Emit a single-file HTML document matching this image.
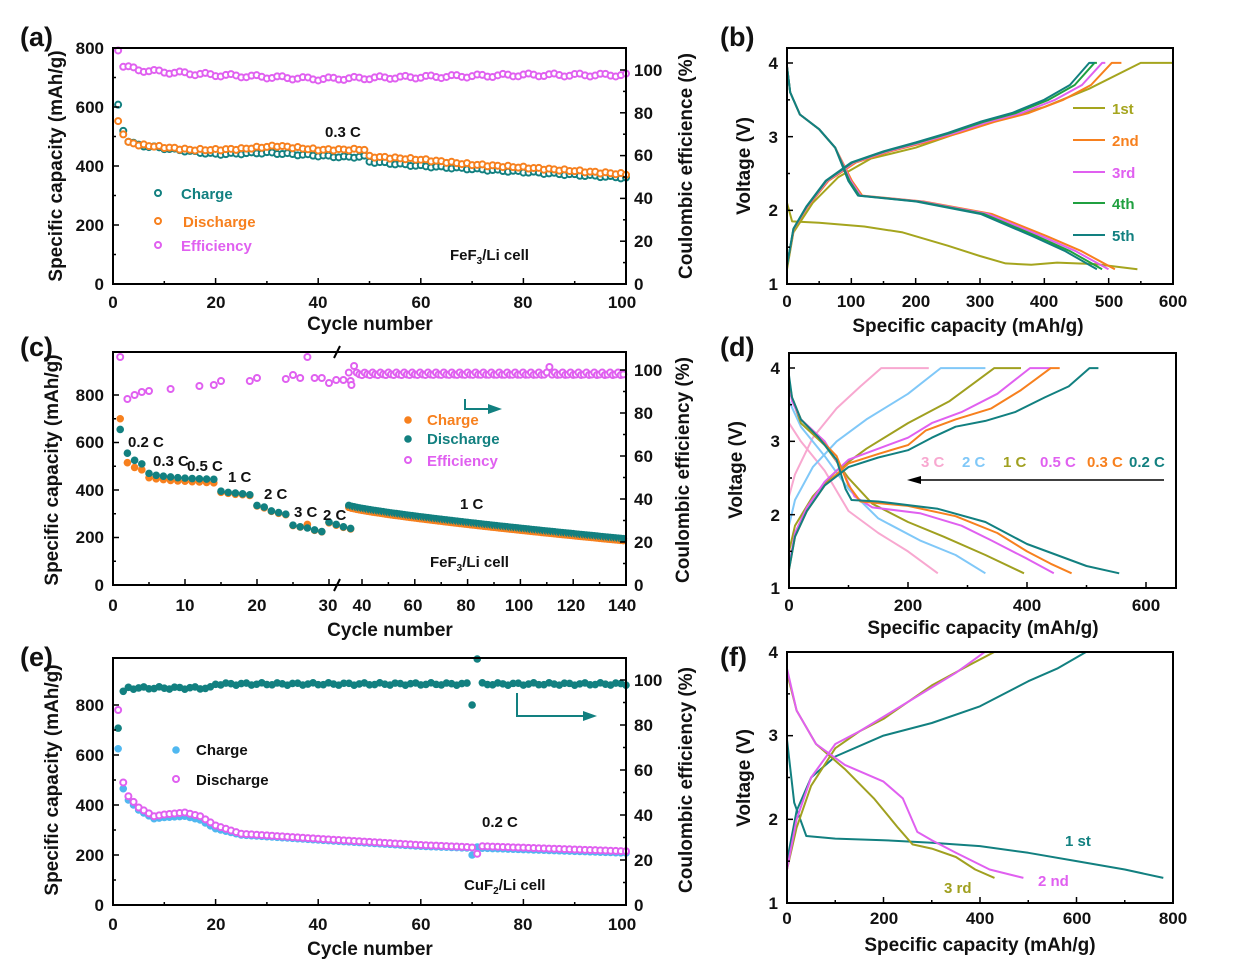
<!DOCTYPE html>
<html><head><meta charset="utf-8"><style>
html,body{margin:0;padding:0;background:#fff;}
svg{display:block;font-family:"Liberation Sans",Arial,sans-serif;font-weight:bold;}
.t{font-size:17px;fill:#111;}
.ti{font-size:19px;fill:#111;}
.pl{font-size:27px;fill:#111;}
.s{font-size:15px;}
</style></head><body>
<svg id="s" width="1256" height="965" viewBox="0 0 1256 965" xmlns="http://www.w3.org/2000/svg">
<g id="data"></g>
<g fill="none" stroke="#000" stroke-width="2">
<rect x="113" y="48" width="513" height="236"/>
<rect x="787" y="48" width="386" height="236"/>
<rect x="113" y="352" width="513" height="233"/>
<rect x="789" y="353" width="387" height="235"/>
<rect x="113" y="658" width="513" height="247"/>
<rect x="787" y="652" width="386" height="251"/>
</g>
<g id="ticks" stroke="#000" stroke-width="1.5"></g>
<text class="pl" x="20" y="46">(a)</text><text class="pl" x="720" y="46">(b)</text>
<text class="pl" x="20" y="356">(c)</text><text class="pl" x="720" y="356">(d)</text>
<text class="pl" x="20" y="666">(e)</text><text class="pl" x="720" y="666">(f)</text>
<!-- (a) -->
<g class="t" text-anchor="end"><text x="104" y="54">800</text><text x="104" y="113">600</text><text x="104" y="172">400</text><text x="104" y="231">200</text><text x="104" y="290">0</text></g>
<g class="t" text-anchor="middle"><text x="113" y="308">0</text><text x="216" y="308">20</text><text x="318" y="308">40</text><text x="421" y="308">60</text><text x="523" y="308">80</text><text x="622" y="308">100</text></g>
<g class="t"><text x="634" y="76">100</text><text x="634" y="119">80</text><text x="634" y="161">60</text><text x="634" y="204">40</text><text x="634" y="247">20</text><text x="634" y="290">0</text></g>
<text class="ti" transform="translate(62,166) rotate(-90)" text-anchor="middle">Specific capacity (mAh/g)</text>
<text class="ti" transform="translate(692,166) rotate(-90)" text-anchor="middle">Coulombic efficience (%)</text>
<text class="ti" x="370" y="330" text-anchor="middle">Cycle number</text>
<text class="s" x="325" y="137" fill="#111">0.3 C</text>
<text class="s" x="181" y="199" fill="#128080">Charge</text>
<text class="s" x="183" y="227" fill="#f7801e">Discharge</text>
<text class="s" x="181" y="251" fill="#e060f0">Efficiency</text>
<text class="s" x="450" y="260" fill="#111">FeF<tspan font-size="10" dy="4">3</tspan><tspan dy="-4">/Li cell</tspan></text>
<!-- (b) -->
<g class="t" text-anchor="end"><text x="778" y="290">1</text><text x="778" y="216">2</text><text x="778" y="143">3</text><text x="778" y="69">4</text></g>
<g class="t" text-anchor="middle"><text x="787" y="307">0</text><text x="851" y="307">100</text><text x="916" y="307">200</text><text x="980" y="307">300</text><text x="1044" y="307">400</text><text x="1109" y="307">500</text><text x="1173" y="307">600</text></g>
<text class="ti" transform="translate(750,166) rotate(-90)" text-anchor="middle">Voltage (V)</text>
<text class="ti" x="968" y="332" text-anchor="middle">Specific capacity (mAh/g)</text>
<g class="s"><text x="1112" y="114" fill="#a5a51e">1st</text><text x="1112" y="146" fill="#f7801e">2nd</text><text x="1112" y="178" fill="#e060f0">3rd</text><text x="1112" y="209" fill="#20a040">4th</text><text x="1112" y="241" fill="#128080">5th</text></g>
<!-- (c) -->
<g class="t" text-anchor="end"><text x="104" y="401">800</text><text x="104" y="448">600</text><text x="104" y="496">400</text><text x="104" y="543">200</text><text x="104" y="591">0</text></g>
<g class="t" text-anchor="middle"><text x="113" y="611">0</text><text x="185" y="611">10</text><text x="257" y="611">20</text><text x="328" y="611">30</text><text x="362" y="611">40</text><text x="413" y="611">60</text><text x="466" y="611">80</text><text x="519" y="611">100</text><text x="571" y="611">120</text><text x="622" y="611">140</text></g>
<g class="t"><text x="634" y="376">100</text><text x="634" y="419">80</text><text x="634" y="462">60</text><text x="634" y="505">40</text><text x="634" y="548">20</text><text x="634" y="591">0</text></g>
<text class="ti" transform="translate(58,470) rotate(-90)" text-anchor="middle">Specific capacity (mAh/g)</text>
<text class="ti" transform="translate(689,470) rotate(-90)" text-anchor="middle">Coulombic efficiency (%)</text>
<text class="ti" x="390" y="636" text-anchor="middle">Cycle number</text>
<g class="s" fill="#111"><text x="128" y="447">0.2 C</text><text x="153" y="466">0.3 C</text><text x="187" y="471">0.5 C</text><text x="228" y="482">1 C</text><text x="264" y="499">2 C</text><text x="294" y="517">3 C</text><text x="323" y="520">2 C</text><text x="460" y="509">1 C</text>
<text x="430" y="567">FeF<tspan font-size="10" dy="4">3</tspan><tspan dy="-4">/Li cell</tspan></text></g>
<g class="s"><text x="427" y="425" fill="#f7801e">Charge</text><text x="427" y="444" fill="#128080">Discharge</text><text x="427" y="466" fill="#e060f0">Efficiency</text></g>
<path d="M465 399 V409 H490" stroke="#128080" stroke-width="2" fill="none"/><path d="M488 404 L502 409 L488 414Z" fill="#128080"/>
<g stroke="#000" stroke-width="2"><line x1="334" y1="358" x2="340" y2="346"/><line x1="334" y1="591" x2="340" y2="579"/></g>
<!-- (d) -->
<g class="t" text-anchor="end"><text x="780" y="594">1</text><text x="780" y="521">2</text><text x="780" y="447">3</text><text x="780" y="374">4</text></g>
<g class="t" text-anchor="middle"><text x="789" y="611">0</text><text x="908" y="611">200</text><text x="1027" y="611">400</text><text x="1146" y="611">600</text></g>
<text class="ti" transform="translate(742,470) rotate(-90)" text-anchor="middle">Voltage (V)</text>
<text class="ti" x="983" y="634" text-anchor="middle">Specific capacity (mAh/g)</text>
<g class="s"><text x="921" y="467" fill="#f8a8d0">3 C</text><text x="962" y="467" fill="#80c8f8">2 C</text><text x="1003" y="467" fill="#a0a020">1 C</text><text x="1040" y="467" fill="#e060f0">0.5 C</text><text x="1087" y="467" fill="#f7801e">0.3 C</text><text x="1129" y="467" fill="#128080">0.2 C</text></g>
<line x1="920" y1="480" x2="1164" y2="480" stroke="#000" stroke-width="1.5"/><path d="M907 480 L921 476 L921 484Z" fill="#000"/>
<!-- (e) -->
<g class="t" text-anchor="end"><text x="104" y="711">800</text><text x="104" y="761">600</text><text x="104" y="811">400</text><text x="104" y="861">200</text><text x="104" y="911">0</text></g>
<g class="t" text-anchor="middle"><text x="113" y="930">0</text><text x="216" y="930">20</text><text x="318" y="930">40</text><text x="421" y="930">60</text><text x="523" y="930">80</text><text x="622" y="930">100</text></g>
<g class="t"><text x="634" y="686">100</text><text x="634" y="731">80</text><text x="634" y="776">60</text><text x="634" y="821">40</text><text x="634" y="866">20</text><text x="634" y="911">0</text></g>
<text class="ti" transform="translate(58,780) rotate(-90)" text-anchor="middle">Specific capacity (mAh/g)</text>
<text class="ti" transform="translate(692,780) rotate(-90)" text-anchor="middle">Coulombic efficiency (%)</text>
<text class="ti" x="370" y="955" text-anchor="middle">Cycle number</text>
<g class="s" fill="#111"><text x="196" y="755">Charge</text><text x="196" y="785">Discharge</text><text x="482" y="827">0.2 C</text>
<text x="464" y="890">CuF<tspan font-size="10" dy="4">2</tspan><tspan dy="-4">/Li cell</tspan></text></g>
<path d="M517 693 V716 H585" stroke="#128080" stroke-width="2" fill="none"/><path d="M583 711 L597 716 L583 721Z" fill="#128080"/>
<!-- (f) -->
<g class="t" text-anchor="end"><text x="778" y="909">1</text><text x="778" y="825">2</text><text x="778" y="741">3</text><text x="778" y="658">4</text></g>
<g class="t" text-anchor="middle"><text x="787" y="924">0</text><text x="884" y="924">200</text><text x="980" y="924">400</text><text x="1077" y="924">600</text><text x="1173" y="924">800</text></g>
<text class="ti" transform="translate(750,778) rotate(-90)" text-anchor="middle">Voltage (V)</text>
<text class="ti" x="980" y="951" text-anchor="middle">Specific capacity (mAh/g)</text>
<g class="s"><text x="1065" y="846" fill="#128080">1 st</text><text x="1038" y="886" fill="#e060f0">2 nd</text><text x="944" y="893" fill="#a0a020">3 rd</text></g>
</svg>
<script>
var NS="http://www.w3.org/2000/svg",D=document.getElementById("data"),T=document.getElementById("ticks");
function el(n,a,p){var e=document.createElementNS(NS,n);for(var k in a)e.setAttribute(k,a[k]);(p||D).appendChild(e);return e;}
function circ(x,y,c,h){if(h)el("circle",{cx:x,cy:y,r:3,fill:"#fff",stroke:c,"stroke-width":2});else el("circle",{cx:x,cy:y,r:3.8,fill:c});}
function interp(pts,x){for(var i=1;i<pts.length;i++){if(x<=pts[i][0]){var a=pts[i-1],b=pts[i];return a[1]+(b[1]-a[1])*(x-a[0])/(b[0]-a[0]);}}return pts[pts.length-1][1];}
function line(pts,X,Y,c){var d="";pts.forEach(function(p,i){d+=(i?"L":"M")+X(p[0]).toFixed(1)+" "+Y(p[1]).toFixed(1);});el("path",{d:d,fill:"none",stroke:c,"stroke-width":2,"stroke-linejoin":"round"});}
function tk(x1,y1,x2,y2){el("line",{x1:x1,y1:y1,x2:x2,y2:y2},T);}
function xt(x0,x1,n,yb){for(var i=0;i<=n;i++){var x=x0+(x1-x0)*i/n;tk(x,yb,x,yb-(i%2?3:6));}}
function yt(y0,y1,n,x,dir){for(var i=0;i<=n;i++){var y=y0+(y1-y0)*i/n;tk(x,y,x+dir*(i%2?3:6),y);}}
xt(113,626,10,284);yt(284,48,8,113,1);yt(284,70,10,626,-1);
xt(787,1173,12,284);yt(284,63,6,787,1);
xt(113,329,6,585);xt(362,626,10,585);yt(585,395,8,113,1);yt(585,370,10,626,-1);
xt(789,1146,6,588);yt(588,368,6,789,1);
xt(113,626,10,905);yt(905,705,8,113,1);yt(905,680,10,626,-1);
xt(787,1173,8,903);yt(903,652,6,787,1);
// (a)
var AX=function(c){return 113+c*5.13},AY=function(v){return 284-v*0.295};
var ch=[[1,605],[2,520],[3,485],[5,470],[15,450],[20,440],[30,445],[45,430],[49,432],[50,415],[60,400],[70,390],[80,380],[100,360]];
var dc=[[1,550],[2,510],[3,480],[5,472],[15,455],[20,455],[25,458],[32,468],[40,455],[49,456],[50,432],[60,422],[70,405],[80,395],[100,372]];
var ef=[[1,49],[2,66],[5,70],[10,72],[20,75],[40,79],[60,77],[80,75],[100,75]];
for(var c=1;c<=100;c++){circ(AX(c),AY(interp(ch,c)+Math.sin(c*1.7)*3),"#128080",1);}
for(var c=1;c<=100;c++){circ(AX(c),AY(interp(dc,c)+Math.sin(c*2.3)*3),"#f7801e",1);}
for(var c=1;c<=100;c++){circ(AX(c),interp(ef,c)+Math.sin(c*1.3)*1.5,"#e060f0",1);}
circ(158,193,"#128080",1);circ(158,221,"#f7801e",1);circ(158,245,"#e060f0",1);
// (b)
var BX=function(q){return 787+q*0.643},BY=function(v){return 284-(v-1)*73.7};
function chg(e,k){var b=[[0,1.25],[10,1.75],[30,2.05],[60,2.4],[100,2.65],[150,2.8],[200,2.92],[250,3.05],[300,3.2],[350,3.32],[400,3.5],[440,3.7],[470,4.0]];return b.map(function(p){return [p[0]*e/470,p[1]];});}
function dis(e){var b=[[0,3.95],[5,3.6],[20,3.3],[50,3.1],[75,2.85],[95,2.4],[110,2.2],[200,2.12],[300,1.95],[380,1.65],[430,1.45],[480,1.2]];return b.map(function(p,i){return [i<5?p[0]:p[0]*e/480,p[1]];});}
line([[0,2.1],[8,1.85],[50,1.83],[120,1.78],[180,1.7],[250,1.52],[300,1.38],[340,1.28],[380,1.26],[420,1.29],[480,1.27],[545,1.2]],BX,BY,"#a5a51e");
line([[0,1.2],[10,1.7],[40,2.1],[80,2.45],[130,2.7],[200,2.85],[300,3.15],[400,3.4],[470,3.65],[550,4.0],[600,4.0]],BX,BY,"#a5a51e");
var bc=[["#f7801e",510,505,520],["#e060f0",500,490,495],["#20a040",490,478,482],["#128080",482,470,478]];
bc.forEach(function(b){line(chg(b[2]).concat([[b[3],4.0]]),BX,BY,b[0]);line(dis(b[1]),BX,BY,b[0]);});
[["#a5a51e",108],["#f7801e",140],["#e060f0",172],["#20a040",203],["#128080",235]].forEach(function(a){el("line",{x1:1073,y1:a[1],x2:1105,y2:a[1],stroke:a[0],"stroke-width":2});});
// (c)
var CX=function(c){return c<=33?113+c*7.2:362+(c-40)*2.64},CY=function(v){return 585-v*0.2375};
var cd=[[1,655],[2,555],[3,525],[4,510],[5,470],[6,462],[7,458],[8,455],[9,452],[10,450],[11,448],[12,447],[13,446],[14,445],[15,395],[16,390],[17,387],[18,384],[19,380],[20,335],[21,328],[22,312],[23,305],[24,298],[25,252],[26,245],[27,240],[28,232],[29,225],[30,265],[31,255],[32,245],[33,238]];
var cc=[[1,700],[2,515],[3,495],[4,485],[5,452],[6,447],[7,444],[8,440],[9,438],[10,437],[11,435],[12,434],[13,432],[14,430],[15,390],[16,386],[17,382],[18,380],[19,377],[20,333],[21,325],[22,310],[23,302],[24,296],[25,250],[26,244],[27,255],[28,230],[29,224],[30,262],[31,252],[32,243],[33,236]];
cc.forEach(function(p){circ(CX(p[0]),CY(p[1]),"#f7801e");});
cd.forEach(function(p){circ(CX(p[0]),CY(p[1]),"#128080");});
for(var c=35;c<=139;c++){var v=335-140*Math.pow((c-35)/104,0.8);circ(CX(c),CY(v-8),"#f7801e");circ(CX(c),CY(v),"#128080");}
var ce=[[1,357],[2,399],[3,395],[4,392],[5,391],[8,389],[12,386],[14,385],[15,381],[19,381],[20,378],[24,379],[25,375],[26,378],[27,357],[28,378],[29,378],[30,383],[31,380],[32,380],[33,381]];
ce.forEach(function(p){circ(CX(p[0]),p[1],"#e060f0",1);});
for(var c=35;c<=139;c++){var y=374+Math.sin(c*2.1)*1.5;if(c==36)y=385;if(c==37)y=366;if(c==111)y=367;circ(CX(c),y,"#e060f0",1);}
circ(408,420,"#f7801e");circ(408,439,"#128080");circ(408,460,"#e060f0",1);
// (d)
var DX=function(q){return 789+q*0.595},DY=function(v){return 588-(v-1)*73.3};
var dd=[
["#f8a8d0",[[0,2.25],[10,2.55],[40,3.05],[80,3.45],[120,3.75],[155,4.0],[235,4.0]],[[0,3.25],[20,3.0],[60,2.6],[100,2.05],[150,1.75],[200,1.5],[250,1.2]]],
["#80c8f8",[[0,1.85],[10,2.2],[40,2.65],[80,3.0],[130,3.3],[200,3.65],[255,4.0],[330,4.0]],[[0,3.55],[20,3.2],[60,2.8],[100,2.35],[150,1.95],[220,1.65],[280,1.45],[330,1.2]]],
["#a0a020",[[0,1.5],[10,1.85],[40,2.25],[80,2.6],[130,2.9],[200,3.25],[270,3.55],[345,4.0],[390,4.0]],[[0,3.7],[20,3.25],[60,2.95],[100,2.5],[140,2.15],[200,1.9],[260,1.7],[330,1.45],[395,1.2]]],
["#e060f0",[[0,1.3],[10,1.75],[30,2.1],[60,2.45],[100,2.75],[150,2.9],[200,3.05],[240,3.25],[290,3.4],[350,3.65],[405,4.0],[440,4.0]],[[0,3.8],[5,3.55],[20,3.3],[60,3.0],[90,2.6],[110,2.25],[140,2.1],[220,2.02],[290,1.85],[340,1.65],[400,1.4],[445,1.2]]],
["#f7801e",[[0,1.25],[10,1.7],[30,2.05],[60,2.4],[100,2.7],[150,2.83],[200,2.95],[230,3.15],[280,3.3],[340,3.45],[390,3.7],[440,4.0],[455,4.0]],[[0,3.85],[5,3.6],[20,3.3],[50,3.05],[80,2.8],[100,2.4],[120,2.18],[200,2.12],[280,1.98],[350,1.75],[400,1.5],[440,1.33],[475,1.2]]],
["#128080",[[0,1.25],[10,1.7],[30,2.05],[60,2.4],[100,2.65],[150,2.78],[200,2.88],[240,3.05],[280,3.2],[330,3.28],[380,3.4],[430,3.6],[470,3.75],[505,4.0],[520,4.0]],[[0,3.9],[5,3.6],[20,3.3],[50,3.05],[80,2.75],[95,2.35],[105,2.2],[150,2.18],[250,2.08],[330,1.9],[400,1.6],[450,1.45],[500,1.3],[555,1.2]]]];
dd.forEach(function(a){line(a[1],DX,DY,a[0]);line(a[2],DX,DY,a[0]);});
// (e)
var EX=function(c){return 113+c*5.13},EY=function(v){return 905-v*0.25};
var ech=[[1,625],[2,465],[3,420],[5,380],[8,345],[10,350],[14,355],[17,340],[20,305],[25,280],[40,260],[60,235],[69,228],[70,200],[71,228],[100,208]];
var edc=[[1,780],[2,490],[3,435],[5,390],[8,355],[10,362],[14,370],[17,355],[20,318],[25,285],[40,265],[60,240],[69,232],[70,230],[71,205],[72,235],[100,215]];
for(var c=1;c<=100;c++){var v=interp(ech,c);if(c==71)v=232;circ(EX(c),EY(v),"#50b8f0");}
for(var c=1;c<=100;c++){circ(EX(c),EY(interp(edc,c)),"#e060f0",1);}
for(var c=1;c<=100;c++){var y=c==1?727:c==2?692:c<20?688:684;y+=Math.sin(c*1.9)*1.2;if(c==70)y=705;if(c==71)y=659;circ(EX(c),y,"#128080");}
circ(176,750,"#50b8f0");circ(176,779,"#e060f0",1);
// (f)
var FX=function(q){return 787+q*0.4825},FY=function(v){return 903-(v-1)*83.7};
line([[0,2.95],[15,2.2],[40,1.8],[100,1.77],[200,1.75],[300,1.72],[400,1.68],[500,1.6],[600,1.5],[700,1.4],[780,1.3]],FX,FY,"#128080");
line([[0,1.5],[20,2.1],[50,2.5],[100,2.75],[200,3.0],[300,3.15],[400,3.35],[500,3.65],[560,3.8],[620,4.0]],FX,FY,"#128080");
line([[0,3.75],[20,3.3],[60,2.9],[120,2.6],[180,2.25],[230,1.9],[260,1.7],[300,1.65],[350,1.55],[390,1.4],[430,1.3]],FX,FY,"#a0a020");
line([[0,1.4],[20,1.9],[50,2.4],[100,2.85],[150,3.05],[200,3.2],[300,3.6],[380,3.85],[430,4.0]],FX,FY,"#a0a020");
line([[0,3.8],[20,3.3],[60,2.9],[120,2.65],[200,2.45],[240,2.25],[270,1.85],[300,1.75],[350,1.6],[420,1.4],[490,1.3]],FX,FY,"#e060f0");
line([[0,1.4],[20,2.0],[50,2.5],[100,2.9],[150,3.05],[250,3.4],[350,3.75],[410,4.0]],FX,FY,"#e060f0");
</script>
</body></html>
